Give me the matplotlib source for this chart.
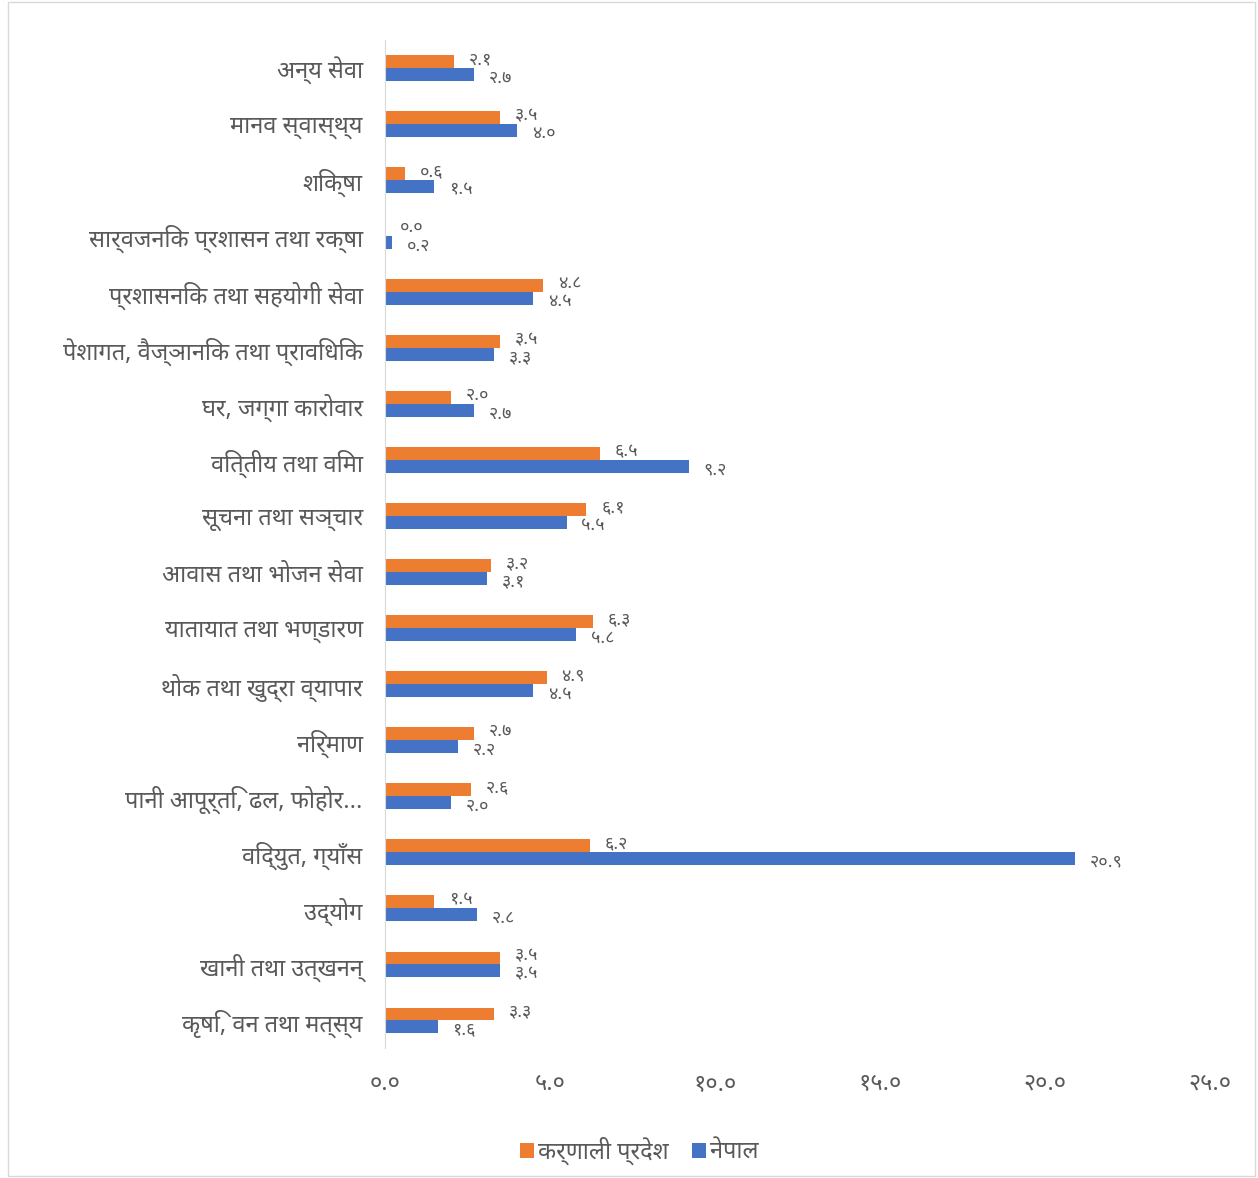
import numpy as np
import matplotlib
matplotlib.use('Agg')
import matplotlib.pyplot as plt
from matplotlib.patches import Rectangle

plt.rcParams['font.family'] = ['Noto Sans', 'DejaVu Sans', 'Lato']

# क्षेत्रहरू (माथिबाट तल)
categories = ['अन्य सेवा', 'मानव स्वास्थ्य', 'शिक्षा', 'सार्वजनिक प्रशासन तथा रक्षा',
              'प्रशासनिक तथा सहयोगी सेवा', 'पेशागत, वैज्ञानिक तथा प्राविधिक',
              'घर, जग्गा कारोवार', 'वित्तीय तथा विमा', 'सूचना तथा सञ्चार',
              'आवास तथा भोजन सेवा', 'यातायात तथा भण्डारण', 'थोक तथा खुद्रा व्यापार',
              'निर्माण', 'पानी आपूर्ति, ढल, फोहोर...', 'विद्युत, ग्याँस', 'उद्योग',
              'खानी तथा उत्खनन्', 'कृषि, वन तथा मत्स्य']
karnali = [2.1, 3.5, 0.6, 0.0, 4.8, 3.5, 2.0, 6.5, 6.1, 3.2, 6.3, 4.9, 2.7, 2.6, 6.2, 1.5, 3.5, 3.3]
nepal = [2.7, 4.0, 1.5, 0.2, 4.5, 3.3, 2.7, 9.2, 5.5, 3.1, 5.8, 4.5, 2.2, 2.0, 20.9, 2.8, 3.5, 1.6]
series_names = ['कर्णाली प्रदेश', 'नेपाल']
xticks = [0, 5, 10, 15, 20, 25]

dev = str.maketrans('0123456789', '०१२३४५६७८९')


def np_num(v):
    return f'{v:.1f}'.translate(dev)


orange = '#ED7D31'
blue = '#4472C4'
grey = '#595959'

fig = plt.figure(figsize=(12.58, 11.78), dpi=100)
fig.patches.append(Rectangle((0.006, 0.002), 0.992, 0.996, transform=fig.transFigure,
                             fill=False, edgecolor='#D9D9D9', linewidth=1))
ax = fig.add_axes([0.306, 0.110, 0.656, 0.856])

n = len(categories)
y = np.arange(n)[::-1]
h = 0.23
ax.barh(y + h / 2, karnali, height=h, color=orange, label=series_names[0])
ax.barh(y - h / 2, nepal, height=h, color=blue, label=series_names[1])

for yi, k, p in zip(y, karnali, nepal):
    ax.text(k + 0.45, yi + h / 2 + 0.05, np_num(k), va='center', ha='left', fontsize=13, color=grey)
    ax.text(p + 0.45, yi - h / 2 - 0.05, np_num(p), va='center', ha='left', fontsize=13, color=grey)

ax.set_xlim(0, 25)
ax.set_ylim(-0.5, n - 0.5)
ax.set_xticks(xticks)
ax.set_xticklabels([np_num(t) for t in xticks], fontsize=17, color=grey)
ax.set_yticks(y)
ax.set_yticklabels(categories, fontsize=17, color=grey)
ax.tick_params(axis='both', length=0)
ax.tick_params(axis='x', pad=17)
ax.tick_params(axis='y', pad=16)
for s in ['top', 'right', 'bottom']:
    ax.spines[s].set_visible(False)
ax.spines['left'].set_color('#D9D9D9')

fig.legend(loc='lower center', bbox_to_anchor=(0.508, -0.007), ncol=2, frameon=False,
           fontsize=17, labelcolor=grey, handlelength=0.6, handleheight=0.6,
           handletextpad=0.15, columnspacing=1.0)

fig.savefig('out.png', dpi=100)
